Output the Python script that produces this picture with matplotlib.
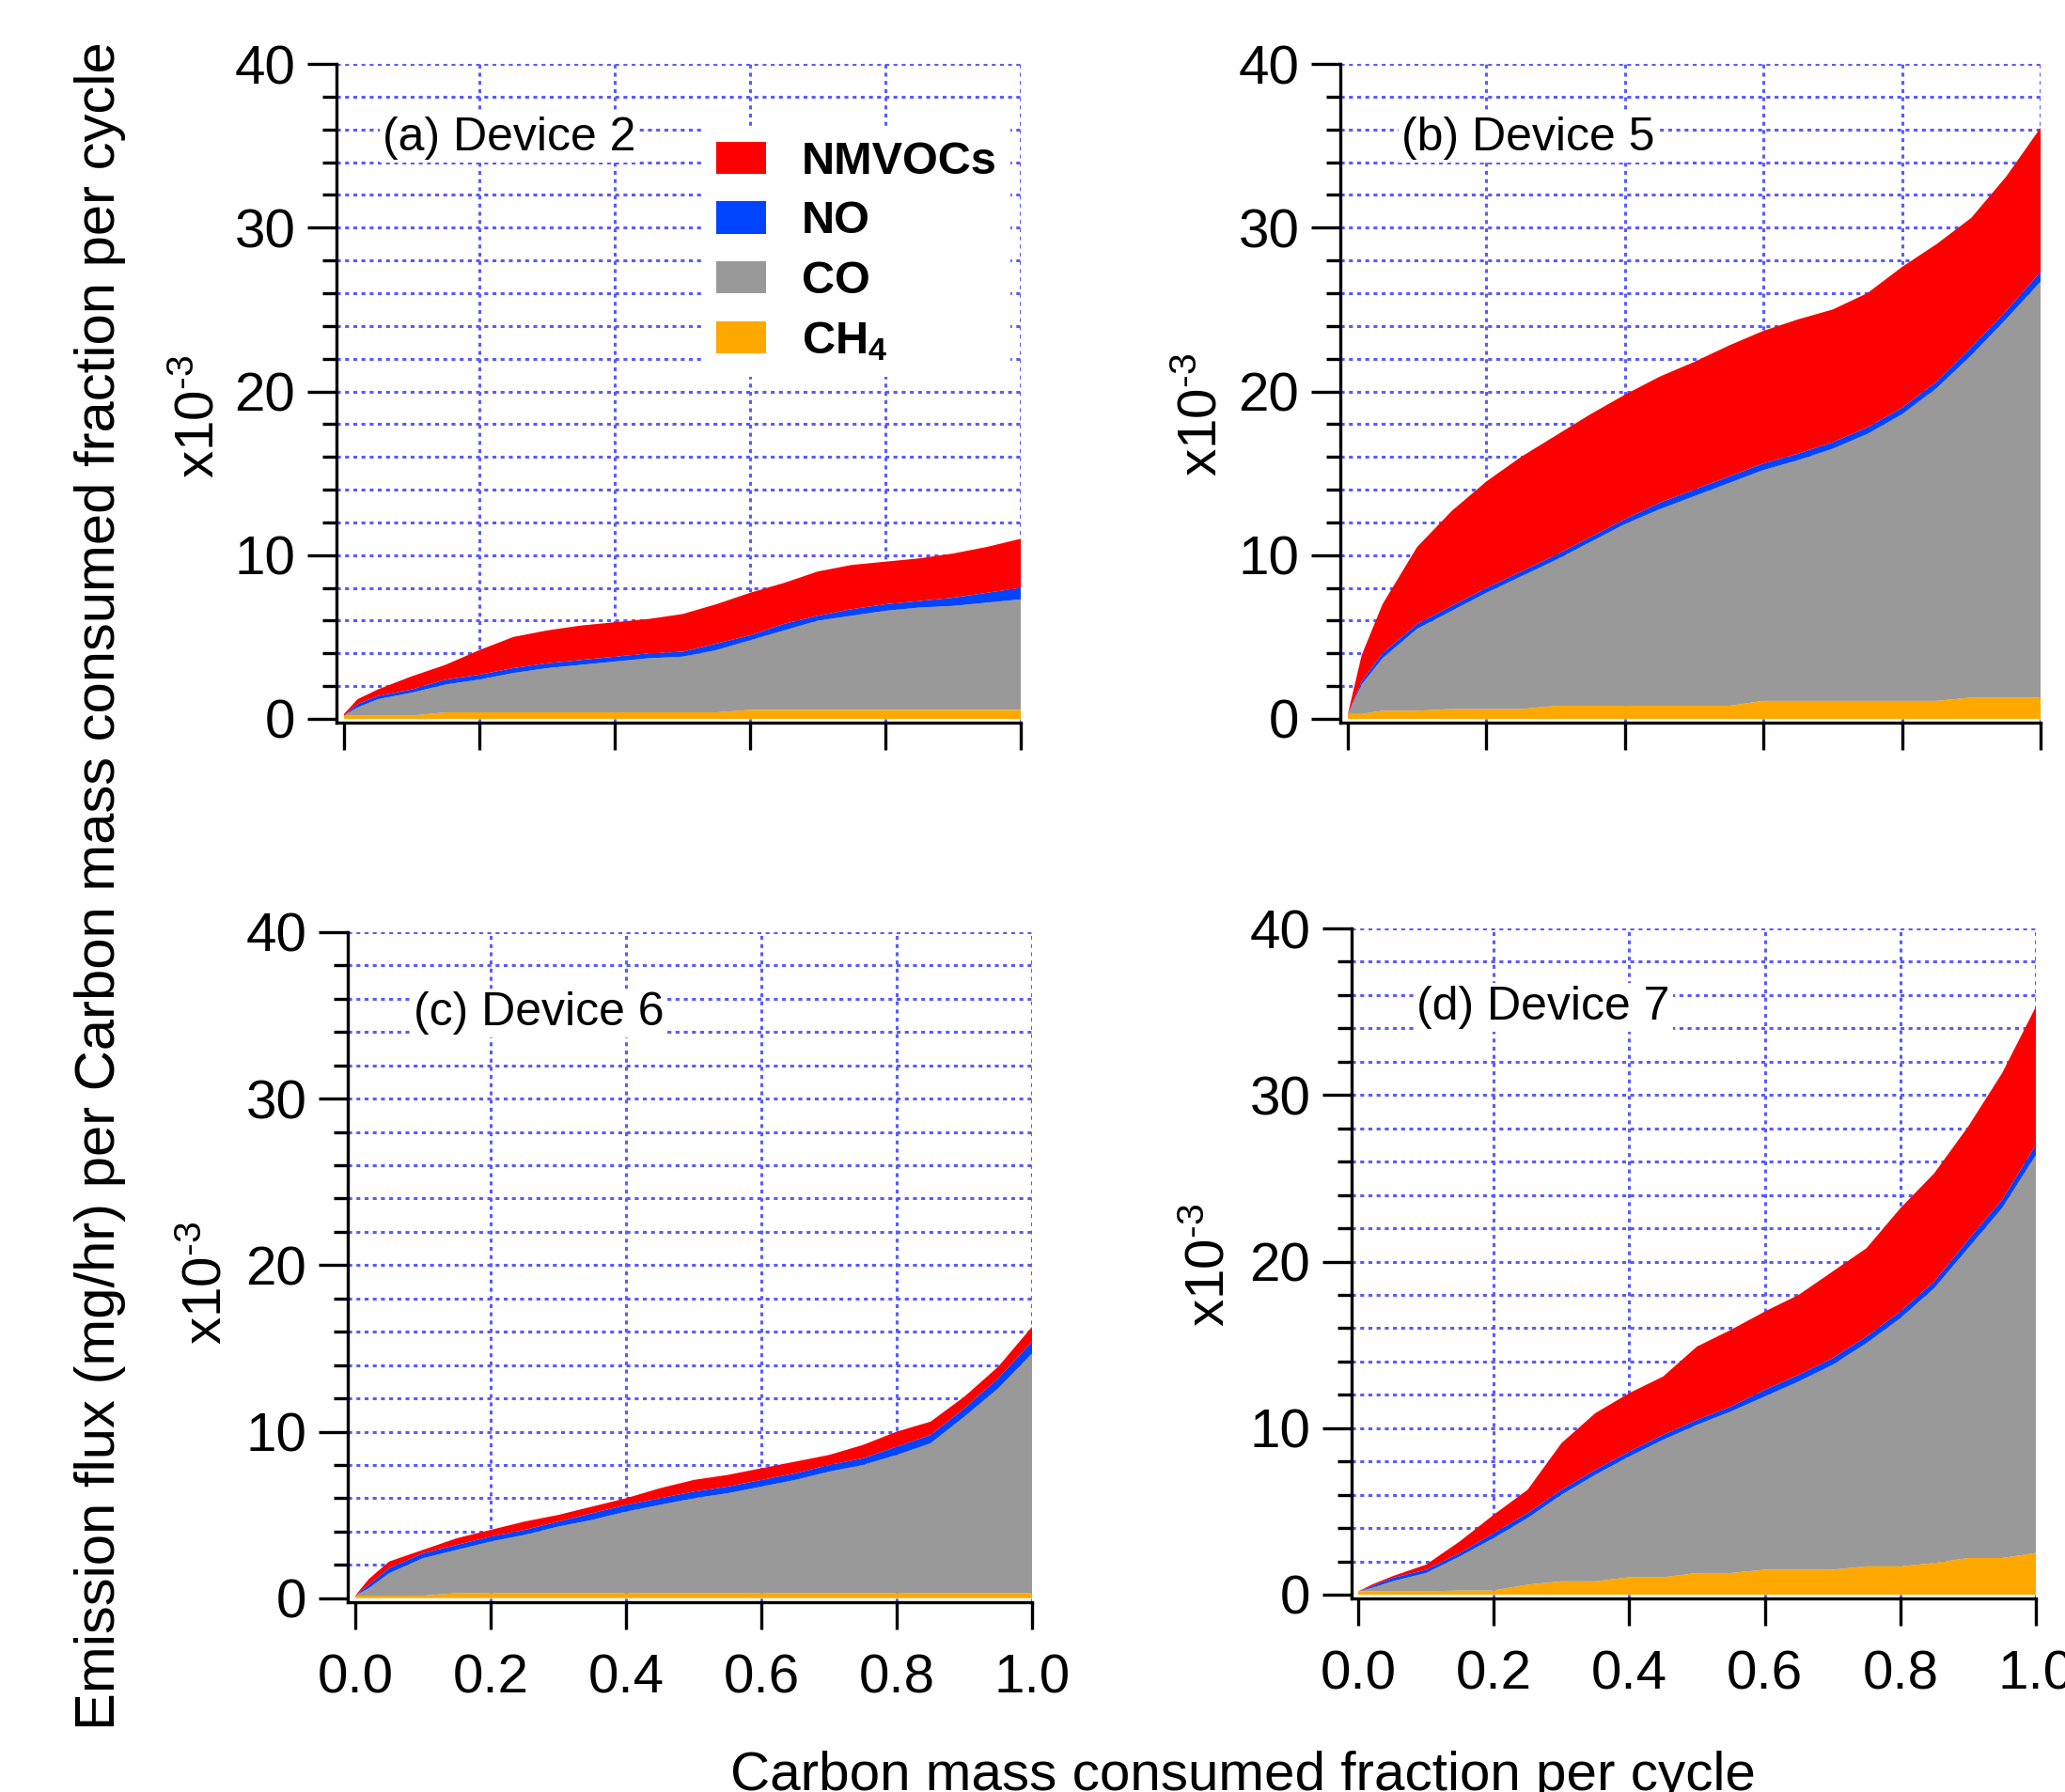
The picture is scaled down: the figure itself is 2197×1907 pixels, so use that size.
import matplotlib
matplotlib.use('Agg')
import matplotlib.pyplot as plt
from matplotlib.patches import Patch

plt.rcParams['font.family'] = ['Liberation Sans', 'DejaVu Sans']
plt.rcParams['mathtext.fontset'] = 'custom'
plt.rcParams['mathtext.rm'] = 'Liberation Sans'
plt.rcParams['mathtext.it'] = 'Liberation Sans:italic'
plt.rcParams['mathtext.bf'] = 'Liberation Sans:bold'

# ---------------- data (x10^-3) ----------------
x_frac = [0, .02, .05, .1, .15, .2, .25, .3, .35, .4, .45, .5, .55, .6, .65,
          .7, .75, .8, .85, .9, .95, 1.0]

panel_titles = ['(a) Device 2', '(b) Device 5', '(c) Device 6', '(d) Device 7']
legend_labels = ['NMVOCs', 'NO', 'CO', r'CH$_\mathbf{4}$']

# Device 2
dev2_ch4 = [0.2, 0.2, 0.2, 0.2, 0.4, 0.4, 0.4, 0.4, 0.4, 0.4, 0.4, 0.4, 0.4,
            0.55, 0.55, 0.55, 0.55, 0.55, 0.55, 0.55, 0.55, 0.55]
dev2_co = [0, 0.5, 1.0, 1.4, 1.7, 2.0, 2.4, 2.7, 2.9, 3.1, 3.3, 3.4, 3.8,
           4.25, 4.85, 5.45, 5.75, 6.05, 6.25, 6.35, 6.55, 6.75]
dev2_no = [0, 0.2, 0.2, 0.2, 0.3, 0.3, 0.3, 0.3, 0.3, 0.3, 0.3, 0.3, 0.4,
           0.3, 0.4, 0.3, 0.4, 0.4, 0.4, 0.5, 0.6, 0.7]
dev2_nmvoc = [0.1, 0.3, 0.4, 0.8, 0.9, 1.5, 1.9, 2.0, 2.1, 2.1, 2.1, 2.3, 2.4,
              2.6, 2.5, 2.7, 2.7, 2.6, 2.6, 2.7, 2.8, 3.0]

# Device 5
dev5_ch4 = [0.3, 0.3, 0.5, 0.5, 0.6, 0.6, 0.6, 0.8, 0.8, 0.8, 0.8, 0.8, 0.8,
            1.1, 1.1, 1.1, 1.1, 1.1, 1.1, 1.3, 1.3, 1.3]
dev5_co = [0, 1.8, 3.2, 5.0, 6.0, 7.1, 8.1, 8.9, 10.0, 11.1, 12.0, 12.8, 13.6,
           14.1, 14.7, 15.4, 16.3, 17.5, 19.1, 20.9, 23.1, 25.4]
dev5_no = [0, 0.2, 0.3, 0.3, 0.3, 0.3, 0.3, 0.3, 0.3, 0.3, 0.4, 0.4, 0.4,
           0.4, 0.4, 0.4, 0.4, 0.4, 0.4, 0.5, 0.5, 0.6]
dev5_nmvoc = [0, 1.6, 3.0, 4.7, 5.8, 6.5, 7.0, 7.3, 7.5, 7.6, 7.7, 7.8, 8.0,
              8.1, 8.2, 8.1, 8.2, 8.6, 8.4, 7.9, 8.2, 8.8]

# Device 6
dev6_ch4 = [0.15, 0.15, 0.15, 0.15, 0.3, 0.3, 0.3, 0.3, 0.3, 0.3, 0.3, 0.3,
            0.3, 0.3, 0.3, 0.3, 0.3, 0.3, 0.3, 0.3, 0.3, 0.3]
dev6_co = [0, 0.45, 1.35, 2.25, 2.6, 3.1, 3.5, 4.0, 4.4, 4.9, 5.3, 5.7, 6.0,
           6.4, 6.8, 7.3, 7.7, 8.3, 9.0, 10.6, 12.3, 14.4]
dev6_no = [0, 0.2, 0.3, 0.3, 0.3, 0.3, 0.3, 0.3, 0.4, 0.4, 0.4, 0.4, 0.4,
           0.4, 0.4, 0.4, 0.4, 0.5, 0.5, 0.5, 0.6, 0.7]
dev6_nmvoc = [0, 0.35, 0.4, 0.2, 0.4, 0.4, 0.5, 0.4, 0.4, 0.4, 0.6, 0.7, 0.7,
              0.7, 0.7, 0.6, 0.8, 0.9, 0.8, 0.7, 0.7, 0.9]

# Device 7
dev7_ch4 = [0.2, 0.2, 0.2, 0.2, 0.25, 0.25, 0.6, 0.8, 0.8, 1.05, 1.05, 1.3,
            1.3, 1.5, 1.5, 1.5, 1.7, 1.7, 1.9, 2.2, 2.2, 2.5]
dev7_co = [0, 0.2, 0.6, 1.1, 2.05, 3.15, 4.0, 5.2, 6.4, 7.25, 8.25, 8.9, 9.7,
           10.4, 11.3, 12.3, 13.4, 14.9, 16.5, 18.6, 21.0, 23.9]
dev7_no = [0, 0.1, 0.2, 0.2, 0.2, 0.3, 0.3, 0.3, 0.3, 0.3, 0.3, 0.3, 0.3,
           0.4, 0.4, 0.4, 0.4, 0.4, 0.4, 0.5, 0.5, 0.6]
dev7_nmvoc = [0, 0.1, 0.1, 0.3, 0.7, 1.1, 1.4, 2.8, 3.4, 3.5, 3.5, 4.4, 4.6,
              4.7, 4.8, 5.2, 5.3, 6.2, 6.5, 6.8, 7.6, 8.3]

panels = [
    (dev2_ch4, dev2_co, dev2_no, dev2_nmvoc),
    (dev5_ch4, dev5_co, dev5_no, dev5_nmvoc),
    (dev6_ch4, dev6_co, dev6_no, dev6_nmvoc),
    (dev7_ch4, dev7_co, dev7_no, dev7_nmvoc),
]

x_ticks = [0.0, 0.2, 0.4, 0.6, 0.8, 1.0]
x_ticklabels = ['0.0', '0.2', '0.4', '0.6', '0.8', '1.0']
y_ticks = [0, 10, 20, 30, 40]

# ---------------- style ----------------
c_ch4, c_co, c_no, c_nmvoc = '#ffa800', '#999999', '#0044ff', '#ff0000'
grid_color = '#5a5aff'
W, H = 2197, 1907

# axes rectangles in pixels: (spine_x, right_x, bottom_spine_y, top_y)
rects_px = [(358, 1086, 769, 68), (1426, 2171, 769, 68),
            (370, 1098, 1705, 992), (1438, 2166, 1701, 988)]
x0_px = [366, 1434, 378, 1445]
y0_px = [765, 765, 1700.7, 1697]
title_pos = [(0.067, 0.887), (0.087, 0.887), (0.096, 0.880), (0.095, 0.882)]
exp_pos = [(-0.2005, 0.465), (-0.196, 0.468), (-0.205, 0.476), (-0.207, 0.497)]

fig = plt.figure(figsize=(W / 100, H / 100), dpi=100)
axes = []
for i, (l, r, b, t) in enumerate(rects_px):
    ax = fig.add_axes([l / W, 1 - b / H, (r - l) / W, (b - t) / H])
    axes.append(ax)
    ch4, co, no, nmvoc = panels[i]
    ax.stackplot(x_frac, ch4, co, no, nmvoc,
                 colors=[c_ch4, c_co, c_no, c_nmvoc], linewidth=0, zorder=2)
    xl = -(x0_px[i] - l) / (r - x0_px[i])
    pxu = (y0_px[i] - t) / 40.0
    yl = -(b - y0_px[i]) / pxu
    ax.set_xlim(xl, 1.0)
    ax.set_ylim(yl, 40)
    # grid
    for yy in range(2, 41, 2):
        ax.axhline(yy, color=grid_color, lw=2.2, ls=(0, (1.35, 1.5)), zorder=0.5)
    for xx in x_ticks[1:]:
        ax.axvline(xx, color=grid_color, lw=2.2, ls=(0, (1.35, 1.5)), zorder=0.5)
    for s in ['top', 'right']:
        ax.spines[s].set_visible(False)
    for s in ['left', 'bottom']:
        ax.spines[s].set_linewidth(2.4)
        ax.spines[s].set_zorder(5)
    ax.set_yticks(y_ticks)
    ax.set_yticks(range(0, 41, 2), minor=True)
    ax.set_xticks(x_ticks)
    ax.tick_params(axis='y', which='major', length=22, width=2.4, pad=9.5,
                   labelsize=42, direction='out')
    ax.tick_params(axis='y', which='minor', length=10.5, width=2.4, direction='out')
    ax.tick_params(axis='x', which='major', length=21, width=2.4, pad=18,
                   labelsize=42, direction='out')
    if i < 2:
        ax.set_xticklabels([])
    else:
        ax.set_xticklabels(x_ticklabels)
    ax.text(title_pos[i][0], title_pos[i][1], panel_titles[i], transform=ax.transAxes,
            fontsize=36, ha='left', va='center', zorder=3,
            bbox=dict(facecolor='white', edgecolor='none', pad=2))
    ax.text(exp_pos[i][0], exp_pos[i][1], r'x10$^{\text{-3}}$', transform=ax.transAxes,
            fontsize=42, rotation=90, ha='center', va='center')

handles = [Patch(facecolor=c, edgecolor='none') for c in [c_nmvoc, c_no, c_co, c_ch4]]
leg = axes[0].legend(handles, legend_labels, loc='upper left',
                     bbox_to_anchor=(0.535, 0.904), borderaxespad=0, borderpad=0.3,
                     frameon=True, facecolor='white', edgecolor='none', framealpha=1,
                     fancybox=False, prop={'weight': 'bold', 'size': 35},
                     handlelength=1.09, handleheight=0.72, handletextpad=0.78,
                     labelspacing=0.38)
leg.set_zorder(4)

fig.text(107 / W, 1 - 943 / H, 'Emission flux (mg/hr) per Carbon mass consumed fraction per cycle',
         rotation=90, ha='center', va='center', fontsize=43)
fig.text(1322 / W, 1 - 1905 / H, 'Carbon mass consumed fraction per cycle',
         ha='center', va='baseline', fontsize=42)

fig.savefig('out.png', dpi=100)
